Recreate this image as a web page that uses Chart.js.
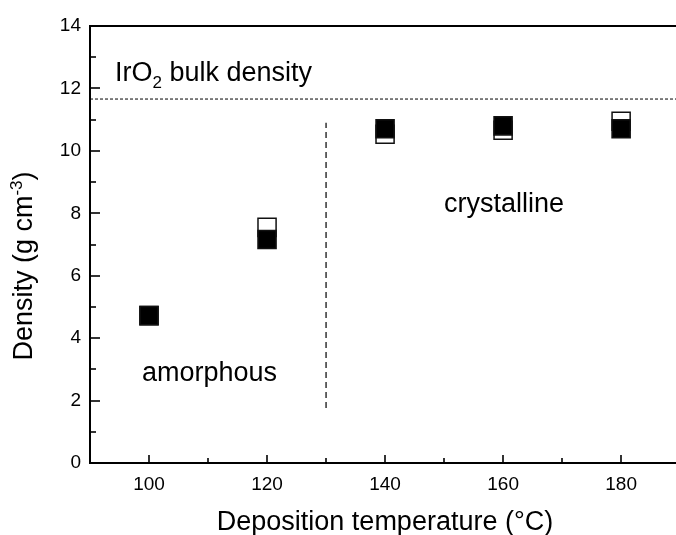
<!DOCTYPE html>
<html>
<head>
<meta charset="utf-8">
<script src="https://cdn.jsdelivr.net/npm/chart.js@4.4.0/dist/chart.umd.min.js"></script>
<style>
  html, body { margin: 0; padding: 0; background: #fff; overflow: hidden; }
  #wrap { width: 676px; height: 535px; position: relative; }
  canvas { display: block; }
</style>
</head>
<body>
<div id="wrap"><canvas id="c" width="676" height="535"></canvas></div>
<script>
// Film density versus deposition temperature (two measurement sets)
const temperatures = [100, 120, 140, 160, 180];
const densityOpen = [4.72, 7.55, 10.53, 10.66, 10.95];
const densityFilled = [4.72, 7.16, 10.71, 10.80, 10.71];

// Axis ticks
const xTickValues = [100, 120, 140, 160, 180];
const xMinorValues = [110, 130, 150, 170];
const yTickValues = [0, 2, 4, 6, 8, 10, 12, 14];
const yMinorValues = [1, 3, 5, 7, 9, 11, 13];
const xRange = [90, 189.3];
const yRange = [0, 14];

// Reference lines
const bulkDensity = 11.66;          // IrO2 bulk density, g/cm3
const boundaryTemp = 130;           // amorphous / crystalline boundary
const boundarySpan = [1.76, 10.9];

const FONT = 'Arial, "Liberation Sans", sans-serif';

function toPoints(xs, ys) { return xs.map((x, i) => ({ x, y: ys[i] })); }

const decor = {
  id: 'decor',
  afterDraw(chart) {
    const { ctx, chartArea: a, scales: { x, y } } = chart;
    const seg = (x0, y0, x1, y1) => { ctx.beginPath(); ctx.moveTo(x0, y0); ctx.lineTo(x1, y1); ctx.stroke(); };
    ctx.save();
    ctx.strokeStyle = '#000';
    ctx.lineWidth = 2;
    seg(a.left - 1, a.top, chart.width, a.top);

    // inward ticks
    ctx.lineWidth = 1.6;
    yTickValues.forEach(v => { const p = Math.round(y.getPixelForValue(v)); seg(a.left, p, a.left + 10, p); });
    yMinorValues.forEach(v => { const p = Math.round(y.getPixelForValue(v)); seg(a.left, p, a.left + 6, p); });
    xTickValues.forEach(v => { const p = Math.round(x.getPixelForValue(v)); seg(p, a.bottom, p, a.bottom - 8); });
    xMinorValues.forEach(v => { const p = Math.round(x.getPixelForValue(v)); seg(p, a.bottom, p, a.bottom - 5); });

    ctx.fillStyle = '#000';
    ctx.textBaseline = 'alphabetic';
    ctx.textAlign = 'left';

    // annotations
    ctx.font = '27px ' + FONT;
    let tx = 115;
    ctx.fillText('IrO', tx, 81);
    tx += ctx.measureText('IrO').width;
    ctx.font = '17px ' + FONT;
    ctx.fillText('2', tx, 88);
    tx += ctx.measureText('2').width;
    ctx.font = '27px ' + FONT;
    ctx.fillText(' bulk density', tx, 81);

    ctx.fillText('amorphous', 142, 381);
    ctx.fillText('crystalline', 444, 212);

    // x axis title
    ctx.textAlign = 'center';
    ctx.fillText('Deposition temperature (\u00B0C)', 385, 530);

    // y axis title with superscript
    ctx.textAlign = 'left';
    const main = 'Density (g cm', sup = '-3', close = ')';
    ctx.font = '27px ' + FONT;
    const wMain = ctx.measureText(main).width, wClose = ctx.measureText(close).width;
    ctx.font = '17px ' + FONT;
    const wSup = ctx.measureText(sup).width;
    const total = wMain + wSup + wClose;
    const cy = 266;
    ctx.translate(32, cy);
    ctx.rotate(-Math.PI / 2);
    let sx = -total / 2;
    ctx.font = '27px ' + FONT;
    ctx.fillText(main, sx, 0);
    sx += wMain;
    ctx.font = '17px ' + FONT;
    ctx.fillText(sup, sx, -10);
    sx += wSup;
    ctx.font = '27px ' + FONT;
    ctx.fillText(close, sx, 0);
    ctx.restore();
  }
};

new Chart(document.getElementById('c'), {
  type: 'scatter',
  data: {
    datasets: [
      {
        label: 'filled',
        data: toPoints(temperatures, densityFilled),
        pointStyle: 'rect',
        pointRadius: 12.8,
        backgroundColor: '#000',
        borderColor: '#111',
        borderWidth: 1.5,
        showLine: false
      },
      {
        label: 'open',
        data: toPoints(temperatures, densityOpen),
        pointStyle: 'rect',
        pointRadius: 12.8,
        backgroundColor: '#fff',
        borderColor: '#111',
        borderWidth: 1.5,
        showLine: false
      },
      {
        label: 'bulk',
        type: 'line',
        data: [{ x: xRange[0], y: bulkDensity }, { x: xRange[1], y: bulkDensity }],
        borderColor: '#000',
        borderWidth: 1,
        borderDash: [3, 2],
        pointRadius: 0,
        fill: false
      },
      {
        label: 'boundary',
        type: 'line',
        data: [{ x: boundaryTemp, y: boundarySpan[0] }, { x: boundaryTemp, y: boundarySpan[1] }],
        borderColor: '#000',
        borderWidth: 1.2,
        borderDash: [6, 4],
        pointRadius: 0,
        fill: false
      }
    ]
  },
  options: {
    responsive: false,
    animation: false,
    events: [],
    layout: { autoPadding: false, padding: { top: 26, left: 0, right: 0, bottom: 0 } },
    plugins: { legend: { display: false }, tooltip: { enabled: false } },
    scales: {
      x: {
        type: 'linear',
        min: xRange[0],
        max: xRange[1],
        afterFit(s) { s.height = 72; s.paddingLeft = 0; s.paddingRight = 0; },
        afterBuildTicks(s) { s.ticks = xTickValues.map(v => ({ value: v })); },
        grid: { display: false, drawTicks: false },
        border: { display: true, color: '#000', width: 2 },
        ticks: { autoSkip: false, maxRotation: 0, padding: 10, color: '#000', font: { family: FONT, size: 19 } }
      },
      y: {
        type: 'linear',
        min: yRange[0],
        max: yRange[1],
        afterFit(s) { s.width = 90; s.paddingTop = 0; s.paddingBottom = 0; },
        afterBuildTicks(s) { s.ticks = yTickValues.map(v => ({ value: v })); },
        grid: { display: false, drawTicks: false },
        border: { display: true, color: '#000', width: 2 },
        ticks: { autoSkip: false, padding: 9, color: '#000', font: { family: FONT, size: 19 } }
      }
    }
  },
  plugins: [decor]
});
</script>
</body>
</html>
